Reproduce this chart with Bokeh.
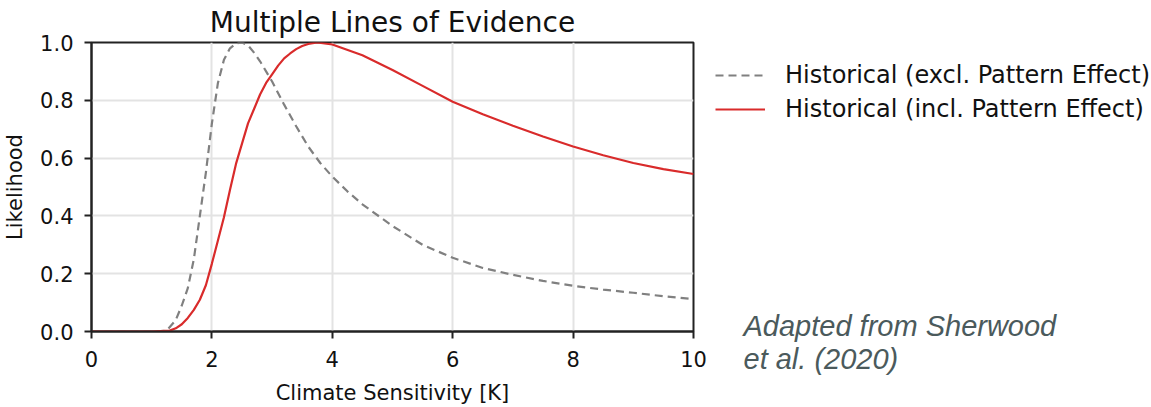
from bokeh.plotting import figure
from bokeh.models import Range1d, Legend, LegendItem, Label, FixedTicker
from bokeh.layouts import row
from bokeh.embed import file_html
from bokeh.resources import INLINE

# Climate sensitivity grid and likelihoods
x_excl = [0.0, 1.0, 1.25, 1.4, 1.5, 1.6, 1.7, 1.8, 1.9, 2.0, 2.1, 2.2, 2.3, 2.4, 2.5,
          2.6, 2.7, 2.8, 2.9, 3.0, 3.2, 3.4, 3.6, 3.8, 4.0, 4.25, 4.5, 5.0, 5.5, 6.0,
          6.5, 7.0, 7.5, 8.0, 8.5, 9.0, 9.5, 10.0]
y_excl = [0.0, 0.0, 0.003, 0.04, 0.09, 0.15, 0.25, 0.40, 0.55, 0.72, 0.86, 0.94, 0.98,
          0.997, 1.0, 0.99, 0.965, 0.935, 0.9, 0.865, 0.785, 0.71, 0.64, 0.583, 0.536,
          0.485, 0.44, 0.365, 0.30, 0.255, 0.22, 0.196, 0.175, 0.158, 0.145, 0.134,
          0.122, 0.112]

x_incl = [0.0, 1.0, 1.3, 1.4, 1.5, 1.6, 1.7, 1.8, 1.9, 2.0, 2.1, 2.2, 2.3, 2.4, 2.5,
          2.6, 2.7, 2.8, 2.9, 3.0, 3.1, 3.2, 3.3, 3.4, 3.5, 3.6, 3.75, 4.0, 4.5, 5.0,
          5.5, 6.0, 6.5, 7.0, 7.5, 8.0, 8.5, 9.0, 9.5, 10.0]
y_incl = [0.0, 0.0, 0.003, 0.011, 0.025, 0.047, 0.075, 0.11, 0.16, 0.235, 0.315, 0.395,
          0.49, 0.58, 0.65, 0.72, 0.77, 0.82, 0.86, 0.89, 0.92, 0.945, 0.962, 0.977,
          0.988, 0.995, 1.0, 0.993, 0.956, 0.905, 0.85, 0.795, 0.752, 0.712, 0.675,
          0.64, 0.61, 0.583, 0.562, 0.545]

labels = ["Historical (excl. Pattern Effect)", "Historical (incl. Pattern Effect)"]
x_ticks = [0, 2, 4, 6, 8, 10]
y_ticks = [0.0, 0.2, 0.4, 0.6, 0.8, 1.0]
y_tick_labels = {0.0: "0.0", 0.2: "0.2", 0.4: "0.4", 0.6: "0.6", 0.8: "0.8", 1.0: "1.0"}
note_lines = ["Adapted from Sherwood", "et al. (2020)"]

FONT = "DejaVu Sans"
GRAY = "#808080"
RED = "#d92b2b"

p = figure(width=712, height=407, output_backend="svg", toolbar_location=None,
           x_range=Range1d(0, 10), y_range=Range1d(0, 1),
           min_border_left=90, min_border_right=19, min_border_top=42,
           min_border_bottom=76, title="Multiple Lines of Evidence")

p.title.align = "center"
p.title.text_font = FONT
p.title.text_font_size = "28px"
p.title.text_font_style = "normal"
p.title.text_color = "#111111"
p.title.standoff = 7

p.outline_line_color = "#222222"
p.outline_line_width = 2

for ax in (p.xaxis[0], p.yaxis[0]):
    ax.major_label_text_font = FONT
    ax.major_label_text_font_size = "21px"
    ax.major_label_text_color = "#111111"
    ax.axis_label_text_font = FONT
    ax.axis_label_text_font_size = "21px"
    ax.axis_label_text_font_style = "normal"
    ax.axis_label_text_color = "#111111"
    ax.major_tick_out = 7
    ax.major_tick_in = 0
    ax.major_tick_line_width = 2
    ax.major_tick_line_color = "#222222"
    ax.minor_tick_line_color = None
    ax.axis_line_width = 2
    ax.axis_line_color = "#222222"

p.xaxis.major_label_standoff = 12
p.yaxis.major_label_standoff = 11
p.xaxis.ticker = FixedTicker(ticks=x_ticks)
p.yaxis.ticker = FixedTicker(ticks=y_ticks)
p.yaxis.major_label_overrides = y_tick_labels
p.xaxis.axis_label = "Climate Sensitivity [K]"
p.yaxis.axis_label = "Likelihood"
p.xaxis.axis_label_standoff = 11
p.yaxis.axis_label_standoff = 10

p.grid.grid_line_color = "#e3e3e3"
p.grid.grid_line_width = 2

p.line(x_excl, y_excl, line_color=GRAY, line_width=2.2, line_dash="8 5")
p.line(x_incl, y_incl, line_color=RED, line_width=2.2)

# Side panel: legend + attribution (screen-like coordinates, y up from bottom)
p2 = figure(width=439, height=407, output_backend="svg", toolbar_location=None,
            x_range=Range1d(0, 439), y_range=Range1d(0, 407),
            x_axis_location=None, y_axis_location=None,
            min_border_left=0, min_border_right=0, min_border_top=0,
            min_border_bottom=0)
p2.frame_align = False
p2.grid.visible = False
p2.outline_line_color = None

# legend proxies (no visible data)
nan = float("nan")
d1 = p2.line(x=[nan], y=[nan], line_color=GRAY, line_width=2.2, line_dash="8 5")
d2 = p2.line(x=[nan], y=[nan], line_color=RED, line_width=2.2)

legend = Legend(items=[LegendItem(label=labels[0], renderers=[d1]),
                       LegendItem(label=labels[1], renderers=[d2])],
                location=(3, 284), orientation="vertical")
legend.border_line_color = None
legend.background_fill_alpha = 0
legend.padding = 0
legend.margin = 0
legend.spacing = 6
legend.glyph_width = 50
legend.glyph_height = 28
legend.label_height = 28
legend.label_standoff = 20
legend.label_text_font = FONT
legend.label_text_font_size = "24px"
legend.label_text_color = "#111111"
p2.add_layout(legend, "center")

for txt, yv in zip(note_lines, [82, 49]):
    p2.add_layout(Label(x=31, y=yv, text=txt, text_font="Liberation Sans",
                        text_font_style="italic", text_font_size="29px",
                        text_color="#4b5a5c", text_baseline="alphabetic"))

layout = row(p, p2, spacing=0)
open("out.html", "w").write(file_html(layout, INLINE))
